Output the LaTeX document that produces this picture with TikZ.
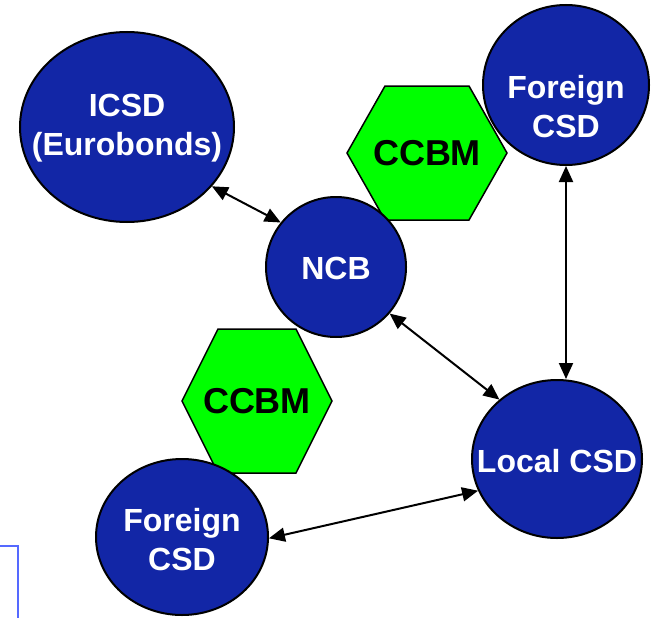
\documentclass[tikz,border=0pt]{standalone}
\usepackage{fontspec}
\setmainfont{Liberation Sans}
\usetikzlibrary{shapes.geometric,arrows.meta}
\definecolor{csdblue}{RGB}{18,38,166}
\definecolor{ccbmgreen}{RGB}{0,255,0}
\definecolor{frameblue}{RGB}{85,105,255}

\begin{document}
\begin{tikzpicture}[x=1pt,y=-1pt,
  csd/.style={ellipse, draw=black, line width=2pt, fill=csdblue, inner sep=0pt, outer sep=0pt},
  csdtext/.style={text=white, align=center, inner sep=0pt,
    font=\fontsize{32}{39}\bfseries\selectfont},
  hexfill/.style={draw=black, line width=1.5pt, fill=ccbmgreen, line join=miter},
  ccbmtext/.style={inner sep=0pt, font=\fontsize{36}{40}\bfseries\selectfont},
  link/.style={{Triangle[length=16pt,width=14pt]}-{Triangle[length=16pt,width=14pt]},
    line width=2pt, shorten <=1pt, shorten >=1pt}
]
\useasboundingbox (0,0) rectangle (652,618);

% collateral hexagons
\coordinate (ccbm1) at (427,153);
\coordinate (ccbm2) at (257,401);
\draw[hexfill] (ccbm1) ++(-80,0) -- ++(38,-67) -- ++(84,0) -- ++(38,67)
  -- ++(-38,67) -- ++(-84,0) -- cycle;
\draw[hexfill] (ccbm2) ++(-75,0) -- ++(36,-72) -- ++(78,0) -- ++(36,72)
  -- ++(-36,72) -- ++(-78,0) -- cycle;
\node[ccbmtext] (ccbm1-label) at (ccbm1) {CCBM};
\node[ccbmtext] (ccbm2-label) at (ccbm2) {CCBM};

% settlement systems
\node[csd, minimum width=214pt, minimum height=190pt] (icsd) at (127,127) {};
\node[csd, minimum width=166pt, minimum height=160pt] (ftop) at (566,85) {};
\node[csd, minimum size=140pt] (ncb) at (336,267) {};
\node[csd, minimum width=170pt, minimum height=158pt] (local) at (557,459) {};
\node[csd, minimum width=172pt, minimum height=156pt] (fbot) at (182,537) {};

\node[csdtext] (icsd-label) at (127,128) {ICSD\\(Eurobonds)};
\node[csdtext] (ftop-label) at (566,107) {Foreign\\CSD};
\node[csdtext] (ncb-label) at (336,268) {NCB};
\node[csdtext] (local-label) at (557,461) {Local CSD};
\node[csdtext] (fbot-label) at (182,540) {Foreign\\CSD};

% links
\draw[link] (icsd.-35) -- (ncb.141);
\draw[link] (ncb.-41) -- (local.134);
\draw[link] (ftop.south) -- (ftop.south |- local.north);
\draw[link] (fbot.-1) -- (local.202);

% corner of the frame at the lower left
\coordinate (frame-top) at (0,546);
\coordinate (frame-corner) at (18,546);
\coordinate (frame-bottom) at (18,618);
\draw[frameblue, line width=1.5pt] (frame-top) -- (frame-corner) -- (frame-bottom);
\end{tikzpicture}
\end{document}
